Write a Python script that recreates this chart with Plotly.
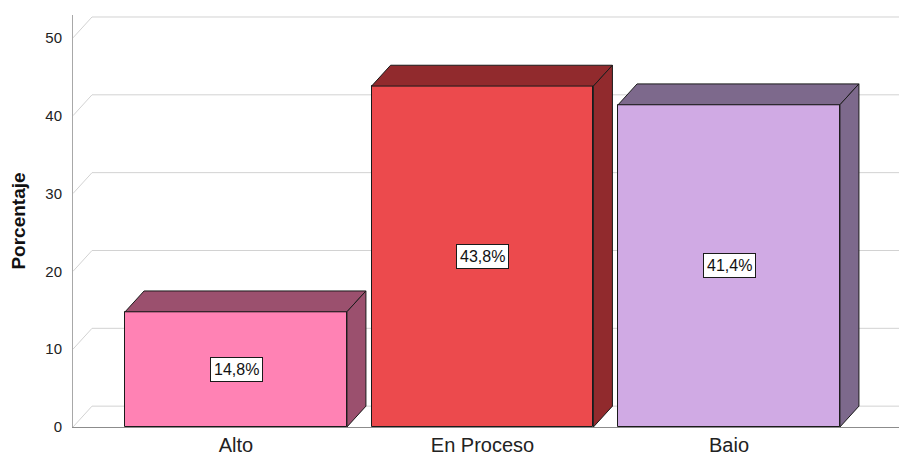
import plotly.graph_objects as go

# ---- data ----
categories = ["Alto", "En Proceso", "Baio"]
values = [14.8, 43.8, 41.4]
front_colors = ["#FF82B4", "#EC4A4D", "#D0AAE4"]
shade_colors = ["#9B506E", "#912A2D", "#7D698C"]
y_ticks = [0, 10, 20, 30, 40, 50]

# ---- geometry (data units) ----
W, H = 899, 456
ml, mr, mt, mb = 73, 0, 15, 26
px_per_x = 246.5
px_per_y = 7.84
x_min = (73 - 236) / px_per_x
x_max = x_min + (W - ml - mr) / px_per_x
y_max = (H - mt - mb) / px_per_y
bar_w = 0.9
dx = 19 / px_per_x
dy = 21 / px_per_y

xs = list(range(len(categories)))

fig = go.Figure()

# front faces
fig.add_trace(go.Bar(
    x=xs, y=values, width=bar_w,
    marker=dict(color=front_colors, line=dict(color="#1a1a1a", width=1)),
    hoverinfo="skip", showlegend=False,
))

# top and side faces
for x, v, sc in zip(xs, values, shade_colors):
    l, r = x - bar_w / 2, x + bar_w / 2
    fig.add_trace(go.Scatter(
        x=[l, l + dx, r + dx, r, l], y=[v, v + dy, v + dy, v, v],
        mode="lines", fill="toself", fillcolor=sc,
        line=dict(color="#1a1a1a", width=1), hoverinfo="skip", showlegend=False))
    fig.add_trace(go.Scatter(
        x=[r, r, r + dx, r + dx, r], y=[0, v, v + dy, dy, 0],
        mode="lines", fill="toself", fillcolor=sc,
        line=dict(color="#1a1a1a", width=1), hoverinfo="skip", showlegend=False))

# back wall gridlines + left diagonals
shapes = []
for t in y_ticks:
    shapes.append(dict(type="line", xref="x", yref="y", layer="below",
                       x0=x_min + dx, x1=x_max, y0=t + dy, y1=t + dy,
                       line=dict(color="#D2D2D2", width=1)))
    shapes.append(dict(type="line", xref="x", yref="y", layer="below",
                       x0=x_min, x1=x_min + dx, y0=t, y1=t + dy,
                       line=dict(color="#D2D2D2", width=1)))

# value labels
annotations = []
for x, v in zip(xs, values):
    annotations.append(dict(
        x=x, y=v / 2, xref="x", yref="y",
        text=f"{v:.1f}".replace(".", ",") + "%",
        showarrow=False, bgcolor="white", bordercolor="#1a1a1a",
        borderwidth=1, borderpad=3,
        font=dict(family="Arial, Liberation Sans, sans-serif", size=16, color="#111")))

fig.update_layout(
    width=W, height=H,
    margin=dict(l=ml, r=mr, t=mt, b=mb),
    plot_bgcolor="white", paper_bgcolor="white",
    shapes=shapes, annotations=annotations,
    bargap=0,
    font=dict(family="Arial, Liberation Sans, sans-serif", color="#222"),
    xaxis=dict(
        range=[x_min, x_max], tickvals=xs, ticktext=categories,
        showgrid=False, zeroline=False,
        showline=True, linecolor="#8C8C8C", linewidth=1,
        ticks="", tickfont=dict(size=20, color="#222"),
    ),
    yaxis=dict(
        range=[0, y_max], tickvals=y_ticks,
        showgrid=False, zeroline=False,
        showline=True, linecolor="#A8A8A8", linewidth=1,
        ticks="", ticklabelstandoff=7,
        tickfont=dict(size=15, color="#222"),
        title=dict(text="<b>Porcentaje</b>", standoff=14,
                   font=dict(size=19, color="#111")),
    ),
)

fig.write_html("out.html", config={"displayModeBar": False},
               post_script="document.body.style.margin='0';")
